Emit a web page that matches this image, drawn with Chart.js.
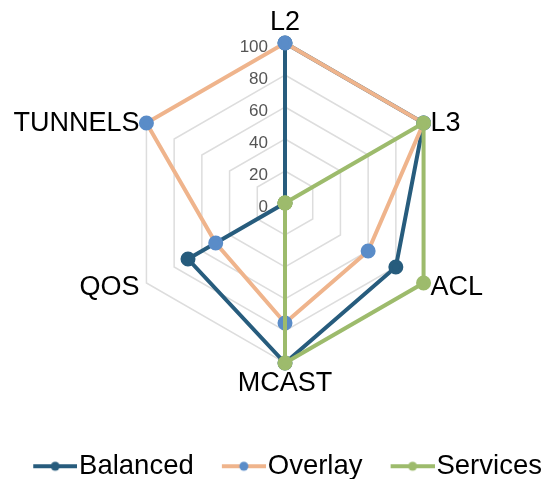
<!DOCTYPE html>
<html>
<head>
<meta charset="utf-8">
<script src="https://cdn.jsdelivr.net/npm/chart.js@4/dist/chart.umd.min.js"></script>
<style>
  html, body { margin: 0; padding: 0; background: #fff; }
  #wrap { width: 547px; height: 479px; }
</style>
</head>
<body>
<div id="wrap"><canvas id="radar"></canvas></div>
<script>
// Radar - feature coverage per profile

const categories = ['L2', 'L3', 'ACL', 'MCAST', 'QOS', 'TUNNELS'];
const balanced = [100, 100, 80, 100, 70, 0];
const overlay = [100, 100, 60, 75, 50, 100];
const services = [0, 100, 100, 100, 0, 0];
const tickValues = [0, 20, 40, 60, 80, 100];

const colors = {
  balanced: '#275c7d',
  overlayLine: '#efb48c',
  overlayPoint: '#5a8cc8',
  services: '#9dbb6c'
};

const FONT = '"Liberation Sans", Arial, Helvetica, sans-serif';
const LEGEND_SIZE = 27.5;

// legend item geometry: swatch is 44px wide, sits 2px before the text
const SWATCH_OFFSET = 28;
const STYLE_WIDTH = SWATCH_OFFSET + 46 - LEGEND_SIZE / 2;

// line-with-dot swatch; blank on the left so it lines up with the text
function legendSwatch(lineColor, dotColor) {
  const half = SWATCH_OFFSET + 44 - STYLE_WIDTH / 2;
  const c = document.createElement('canvas');
  c.width = Math.round(half * 2);
  c.height = 14;
  const start = c.width - 44;
  const g = c.getContext('2d');
  g.strokeStyle = lineColor;
  g.lineWidth = 4;
  g.beginPath();
  g.moveTo(start, 7);
  g.lineTo(c.width, 7);
  g.stroke();
  g.fillStyle = dotColor;
  g.beginPath();
  g.arc(start + 22, 7, 4.5, 0, Math.PI * 2);
  g.fill();
  return c;
}

// tick numbers left of the vertical axis (0 included) and the category names
const radarTextPlugin = {
  id: 'radarText',
  afterDatasetsDraw(chart) {
    const scale = chart.scales.r;
    const ctx = chart.ctx;
    ctx.save();
    ctx.font = '17px ' + FONT;
    ctx.fillStyle = '#555';
    ctx.textAlign = 'right';
    ctx.textBaseline = 'middle';
    tickValues.forEach(v => {
      const d = scale.getDistanceFromCenterForValue(v);
      ctx.fillText(String(v), scale.xCenter - 17, scale.yCenter - d + 4);
    });

    ctx.font = '27px ' + FONT;
    ctx.fillStyle = '#000';
    categories.forEach((name, i) => {
      const pos = scale.getPointPositionForValue(i, scale.max);
      const a = scale.getIndexAngle(i);
      const sx = Math.sin(a);
      const cy = Math.cos(a);
      if (Math.abs(sx) < 0.01) {
        ctx.textAlign = 'center';
        ctx.fillText(name, pos.x, pos.y + (cy > 0 ? -20 : 21));
      } else {
        ctx.textAlign = sx > 0 ? 'left' : 'right';
        ctx.fillText(name, pos.x + (sx > 0 ? 7 : -7), pos.y + (cy > 0 ? 1 : 5));
      }
    });
    ctx.restore();
  }
};

const swatches = [
  legendSwatch(colors.balanced, colors.balanced),
  legendSwatch(colors.overlayLine, colors.overlayPoint),
  legendSwatch(colors.services, colors.services)
];

new Chart(document.getElementById('radar'), {
  type: 'radar',
  data: {
    labels: categories,
    datasets: [
      {
        label: 'Balanced',
        data: balanced,
        borderColor: colors.balanced,
        backgroundColor: 'transparent',
        pointBackgroundColor: colors.balanced,
        pointBorderColor: colors.balanced,
        borderWidth: 4,
        pointRadius: 5.5,
        fill: false,
        order: 2
      },
      {
        label: 'Overlay',
        data: overlay,
        borderColor: colors.overlayLine,
        backgroundColor: 'transparent',
        pointBackgroundColor: colors.overlayPoint,
        pointBorderColor: colors.overlayPoint,
        borderWidth: 4,
        pointRadius: 5.5,
        fill: false,
        order: 1
      },
      {
        label: 'Services',
        data: services,
        borderColor: colors.services,
        backgroundColor: 'transparent',
        pointBackgroundColor: colors.services,
        pointBorderColor: colors.services,
        borderWidth: 4,
        pointRadius: 5.5,
        fill: false,
        order: 0
      }
    ]
  },
  options: {
    responsive: true,
    maintainAspectRatio: false,
    animation: false,
    layout: { padding: { top: 0, bottom: -11, left: 0, right: 0 } },
    plugins: {
      tooltip: { enabled: false },
      legend: {
        position: 'bottom',
        labels: {
          usePointStyle: true,
          pointStyleWidth: STYLE_WIDTH,
          color: '#111',
          padding: 0,
          font: { size: LEGEND_SIZE, family: FONT },
          generateLabels: (chart) => chart.data.datasets.map((ds, i) => ({
            text: ds.label,
            pointStyle: swatches[i],
            fillStyle: 'transparent',
            strokeStyle: 'transparent',
            lineWidth: 0,
            datasetIndex: i,
            hidden: false
          }))
        }
      }
    },
    scales: {
      r: {
        min: 0,
        max: 100,
        // frame the radar in its own box so the legend keeps the full width
        beforeSetDimensions: (s) => {
          s.left = 125;
          s.right = 445;
          s.top = 43;
          s.bottom = 363;
          s.maxWidth = 320;
          s.maxHeight = 320;
        },
        ticks: { stepSize: 20, display: false },
        angleLines: { display: false },
        grid: { color: '#dddddd', lineWidth: 1.5 },
        pointLabels: { display: false }
      }
    }
  },
  plugins: [radarTextPlugin]
});
</script>
</body>
</html>
